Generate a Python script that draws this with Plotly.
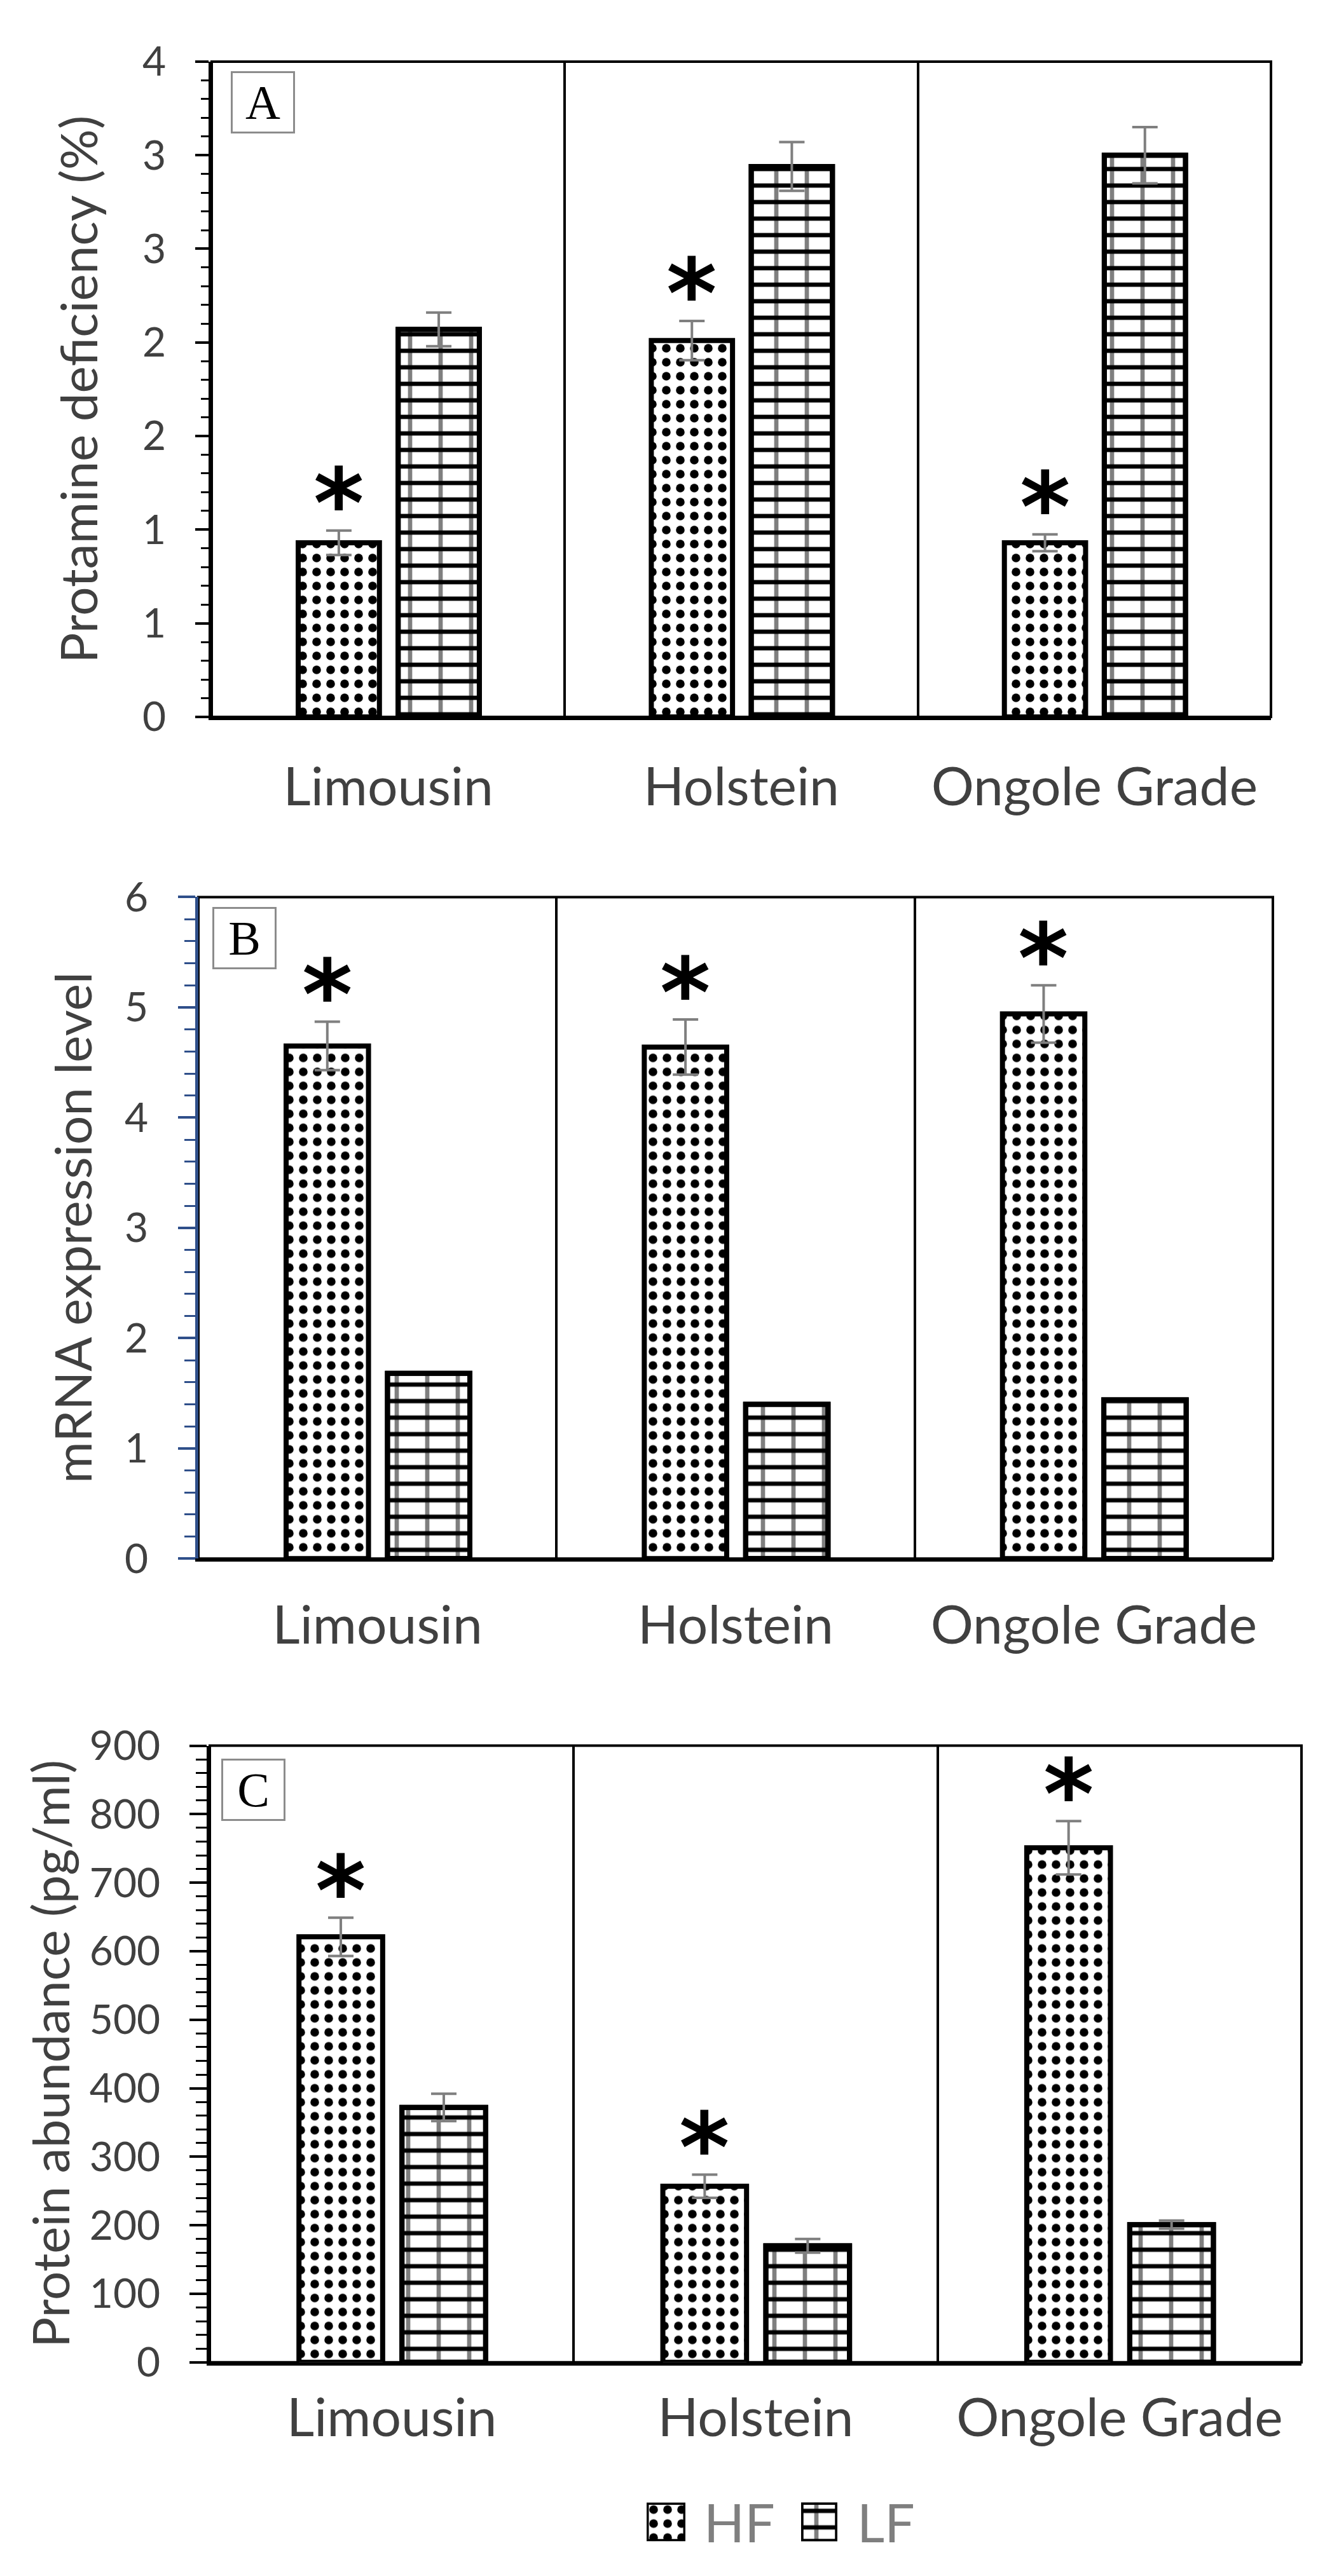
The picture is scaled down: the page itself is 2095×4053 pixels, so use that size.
import numpy as np
import plotly.graph_objects as go

W, H = 2095, 4053

# ---------------- data ----------------
breeds = ["Limousin", "Holstein", "Ongole Grade"]
series = ["HF", "LF"]

prot_hf = [0.93, 2.01, 0.93]
prot_hf_err = [0.065, 0.105, 0.045]
prot_lf = [2.07, 2.94, 3.00]
prot_lf_err = [0.09, 0.13, 0.15]

mrna_hf = [4.65, 4.64, 4.94]
mrna_hf_err = [0.22, 0.25, 0.26]
mrna_lf = [1.68, 1.40, 1.44]

protein_hf = [621, 257, 751]
protein_hf_err = [28, 17, 39]
protein_lf = [372, 170, 201]
protein_lf_err = [20, 10, 6]

a_tickvals = [0, 0.5, 1.0, 1.5, 2.0, 2.5, 3.0, 3.5]
a_ticktext = ["0", "1", "1", "2", "2", "3", "3", "4"]
b_tickvals = [0, 1, 2, 3, 4, 5, 6]
c_tickvals = [0, 100, 200, 300, 400, 500, 600, 700, 800, 900]

panel_labels = ["A", "B", "C"]
y_titles = ["Protamine deficiency (%)", "mRNA expression level", "Protein abundance (pg/ml)"]

# ---------------- style ----------------
TXT = "#404040"
FONT = "Lato"


def xdom(a, b):
    return [a / W, b / W]


def ydom(top, bottom):
    return [1 - bottom / H, 1 - top / H]


panels = [
    dict(hf=prot_hf, hf_err=prot_hf_err, lf=prot_lf, lf_err=prot_lf_err,
         rng=[0, 3.5], tv=a_tickvals, tt=a_ticktext, minor=0.1,
         axc="black", px=(333, 1999), py=(57, 1108), tlen=(21, 12),
         ystand=33, xstand=33, box=(30, 15), title_x=122),
    dict(hf=mrna_hf, hf_err=mrna_hf_err, lf=mrna_lf, lf_err=None,
         rng=[0, 6], tv=b_tickvals, tt=[str(v) for v in b_tickvals], minor=0.2,
         axc="#2F4F8A", px=(312, 2002), py=(1397, 2458), tlen=(27, 17),
         ystand=34, xstand=28, box=(22, 16), title_x=113),
    dict(hf=protein_hf, hf_err=protein_hf_err, lf=protein_lf, lf_err=protein_lf_err,
         rng=[0, 900], tv=c_tickvals, tt=[str(v) for v in c_tickvals], minor=20,
         axc="black", px=(330, 2047), py=(2758, 3747), tlen=(27, 17),
         ystand=33, xstand=10, box=(18, 20), title_x=78),
]

HF_PAT = dict(shape=".", fgcolor="black", bgcolor="white", size=22, solidity=0.3, fillmode="replace")
LF_PAT_H = dict(shape="-", fgcolor="black", bgcolor="white", size=26, solidity=0.26, fillmode="replace")
LF_PAT_V = dict(shape="|", fgcolor="black", bgcolor="rgba(0,0,0,0)", size=48, solidity=0.14, fillmode="overlay")

ERR = dict(color="#7f7f7f", thickness=4, width=20)
BAR_LINE = dict(color="black", width=8)

fig = go.Figure()
annotations = []
shapes = []
layout = {}

for k, p in enumerate(panels, start=1):
    sfx = "" if k == 1 else str(k)
    xa, ya = "x" + sfx, "y" + sfx
    xs = list(range(len(breeds)))

    fig.add_trace(go.Bar(
        x=xs, y=p["hf"], xaxis=xa, yaxis=ya, name=series[0], showlegend=False,
        offset=-0.255, width=0.23,
        marker=dict(color="white", line=BAR_LINE, pattern=HF_PAT),
        error_y=dict(type="data", array=p["hf_err"], visible=True, **ERR),
    ))
    fig.add_trace(go.Bar(
        x=xs, y=p["lf"], xaxis=xa, yaxis=ya, name=series[1], showlegend=False,
        offset=0.028, width=0.23,
        marker=dict(color="white", line=BAR_LINE, pattern=LF_PAT_H),
    ))
    lf_err = dict(type="data", array=p["lf_err"], visible=True, **ERR) if p["lf_err"] else dict(visible=False)
    fig.add_trace(go.Bar(
        x=xs, y=p["lf"], xaxis=xa, yaxis=ya, name=series[1], showlegend=False,
        offset=0.028, width=0.23,
        marker=dict(color="rgba(0,0,0,0)", line=BAR_LINE, pattern=LF_PAT_V),
        error_y=lf_err,
    ))

    minor_vals = [float(v) for v in np.arange(0, p["rng"][1] + 1e-9, p["minor"])]

    layout["xaxis" + sfx] = dict(
        domain=xdom(*p["px"]), anchor=ya, range=[-0.5, len(breeds) - 0.5],
        tickmode="array", tickvals=xs, ticktext=breeds, ticks="",
        tickfont=dict(family=FONT, size=84, color=TXT), ticklabelstandoff=p["xstand"],
        showline=True, linecolor="black", linewidth=5, showgrid=False, zeroline=False,
        minor=dict(tickmode="array", tickvals=[i + 0.5 for i in xs[:-1]], showgrid=True,
                   gridcolor="black", gridwidth=4, ticks=""),
        fixedrange=True,
    )
    layout["yaxis" + sfx] = dict(
        domain=ydom(*p["py"]), anchor=xa, range=p["rng"],
        tickmode="array", tickvals=p["tv"], ticktext=p["tt"],
        ticks="outside", ticklen=p["tlen"][0], tickwidth=4, tickcolor=p["axc"],
        tickfont=dict(family=FONT, size=64, color=TXT), ticklabelstandoff=p["ystand"],
        showline=True, linecolor=p["axc"], linewidth=5, showgrid=False, zeroline=False,
        minor=dict(tickmode="array", tickvals=minor_vals, ticks="outside", ticklen=p["tlen"][1],
                   tickwidth=3, tickcolor=p["axc"], showgrid=False),
        fixedrange=True,
    )

    # plot frame
    shapes.append(dict(type="rect", xref=xa + " domain", yref=ya + " domain", x0=0, x1=1, y0=0, y1=1,
                       line=dict(color="black", width=4), layer="below"))

    # panel letter box
    annotations.append(dict(
        text=panel_labels[k - 1], xref=xa + " domain", yref=ya + " domain", x=0, y=1,
        xanchor="left", yanchor="top", xshift=p["box"][0], yshift=-p["box"][1],
        showarrow=False, font=dict(family="Liberation Serif", size=76, color="black"),
        bordercolor="#8c8c8c", borderwidth=3, borderpad=0, width=95, height=92, align="center",
        valign="middle",
    ))

    # significance asterisks above HF bars
    for i, (v, e) in enumerate(zip(p["hf"], p["hf_err"])):
        annotations.append(dict(
            text="<b>*</b>", xref=xa, yref=ya, x=i - 0.255 + 0.115, y=v + e,
            xanchor="center", yanchor="middle", yshift=42, showarrow=False,
            font=dict(family="DejaVu Sans", size=152, color="black"),
        ))

    # y axis title
    cy = (p["py"][0] + p["py"][1]) / 2
    annotations.append(dict(
        text=y_titles[k - 1], xref="paper", yref="paper", x=p["title_x"] / W, y=1 - cy / H,
        xanchor="center", yanchor="middle", textangle=-90, showarrow=False,
        font=dict(family=FONT, size=80, color=TXT),
    ))

# ---------------- custom legend ----------------
leg_y = (3972, 4034)
leg_items = [
    (series[0], (1017, 1078), [HF_PAT], 1105),
    (series[1], (1260, 1317), [LF_PAT_H, LF_PAT_V], 1346),
]
for j, (name, (x0, x1), pats, tx) in enumerate(leg_items):
    n = 4 + j
    xa, ya = "x%d" % n, "y%d" % n
    for pi, pat in enumerate(pats):
        col = "white" if pi == 0 else "rgba(0,0,0,0)"
        fig.add_trace(go.Bar(
            x=[name], y=[1], xaxis=xa, yaxis=ya, showlegend=False, width=1,
            marker=dict(color=col, line=dict(color="black", width=7), pattern=pat),
        ))
    layout["xaxis%d" % n] = dict(domain=xdom(x0, x1), anchor=ya, visible=False, fixedrange=True)
    layout["yaxis%d" % n] = dict(domain=ydom(*leg_y), anchor=xa, range=[0, 1], visible=False, fixedrange=True)
    annotations.append(dict(
        text=name, xref="paper", yref="paper", x=tx / W, y=1 - (leg_y[0] + leg_y[1]) / 2 / H,
        xanchor="left", yanchor="middle", showarrow=False,
        font=dict(family=FONT, size=84, color="#7f7f7f"),
    ))

fig.update_layout(
    width=W, height=H, margin=dict(l=0, r=0, t=0, b=0),
    paper_bgcolor="white", plot_bgcolor="white",
    barmode="overlay", showlegend=False,
    annotations=annotations, shapes=shapes,
    **layout,
)

fig.write_html("out.html")
